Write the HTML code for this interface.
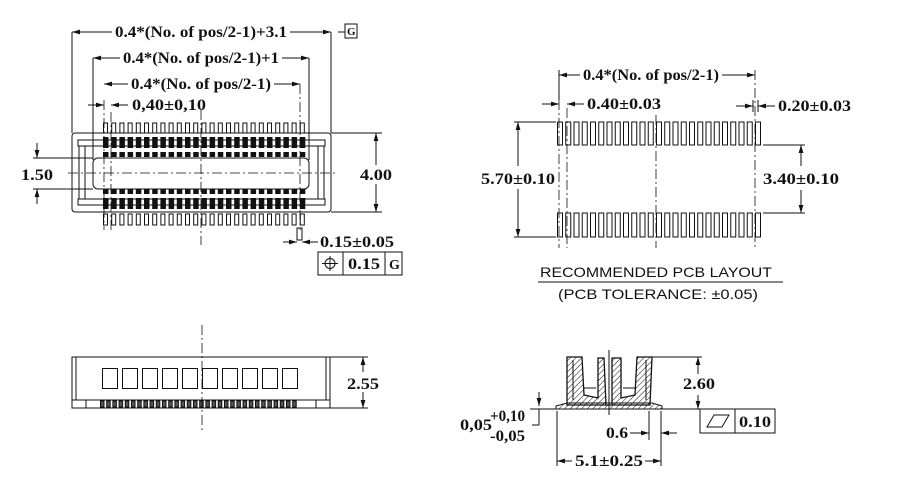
<!DOCTYPE html>
<html><head><meta charset="utf-8"><style>
html,body{margin:0;padding:0;background:#fff;}
svg{display:block;}
text{font-family:"Liberation Serif",serif;font-size:16px;font-weight:bold;fill:#111;stroke:none;}
</style></head><body>
<svg width="912" height="482" viewBox="0 0 912 482" xmlns="http://www.w3.org/2000/svg" xmlns:xlink="http://www.w3.org/1999/xlink" stroke="#111" fill="none" stroke-width="1">
<defs>
<marker id="a" viewBox="0 0 10 6" refX="10" refY="3" markerWidth="8" markerHeight="5" orient="auto-start-reverse"><path d="M0,0L10,3L0,6z" fill="#111" stroke="none"/></marker>
<g id="pc">
<rect x="0.5" y="123" width="4" height="10" fill="#fff"/>
<rect x="0" y="137" width="5.5" height="11" fill="#111" stroke="none"/>
<rect x="0" y="152" width="5.5" height="5" fill="#111" stroke="none"/>
<rect x="0" y="189" width="5.5" height="5" fill="#111" stroke="none"/>
<rect x="0" y="198" width="5.5" height="11" fill="#111" stroke="none"/>
<rect x="0.5" y="214" width="4" height="11" fill="#fff"/>
</g>
<g id="pd">
<rect x="0.5" y="122" width="5" height="23" fill="#fff"/>
<rect x="0.5" y="213" width="5" height="24" fill="#fff"/>
</g>
<g id="p5">
<use href="#pc" x="0"/><use href="#pc" x="8.2"/><use href="#pc" x="16.4"/><use href="#pc" x="24.6"/><use href="#pc" x="32.8"/>
</g>
<g id="d5">
<use href="#pd" x="0"/><use href="#pd" x="8.25"/><use href="#pd" x="16.5"/><use href="#pd" x="24.75"/><use href="#pd" x="33"/>
</g>
<g id="sp8">
<rect x="0.5" y="401" width="3.5" height="6" fill="#555"/><rect x="6.7" y="401" width="3.5" height="6" fill="#555"/><rect x="12.9" y="401" width="3.5" height="6" fill="#555"/><rect x="19.1" y="401" width="3.5" height="6" fill="#555"/>
<rect x="25.3" y="401" width="3.5" height="6" fill="#555"/><rect x="31.5" y="401" width="3.5" height="6" fill="#555"/><rect x="37.7" y="401" width="3.5" height="6" fill="#555"/><rect x="43.9" y="401" width="3.5" height="6" fill="#555"/>
</g>
<pattern id="h" width="4" height="4" patternUnits="userSpaceOnUse" patternTransform="rotate(45)"><line x1="0" y1="0" x2="0" y2="4" stroke="#111" stroke-width="1"/></pattern>
</defs>

<!-- TOP-LEFT VIEW -->
<rect x="72" y="133" width="259" height="79" rx="3"/>
<rect x="78" y="140" width="247" height="6"/>
<rect x="78" y="199" width="247" height="6"/>
<line x1="79" y1="146" x2="79" y2="199"/><line x1="85" y1="146" x2="85" y2="199"/>
<line x1="318" y1="146" x2="318" y2="199"/><line x1="324" y1="146" x2="324" y2="199"/>
<rect x="93" y="158" width="216" height="31" rx="5"/>
<use href="#p5" x="103"/><use href="#p5" x="144"/><use href="#p5" x="185"/><use href="#p5" x="226"/><use href="#p5" x="267"/>
<g stroke-dasharray="10,3,2,3" stroke-width="0.8">
<line x1="201" y1="110" x2="201" y2="245"/>
<line x1="68" y1="173" x2="335" y2="173"/>
<line x1="104" y1="100" x2="104" y2="230"/>
<line x1="111" y1="112" x2="111" y2="230"/>
<line x1="300" y1="84" x2="300" y2="230"/>
</g>
<line x1="72" y1="32" x2="72" y2="133"/><line x1="331" y1="32" x2="331" y2="133"/>
<line x1="72" y1="32" x2="112" y2="32" marker-start="url(#a)"/><line x1="290" y1="32" x2="331" y2="32" marker-end="url(#a)"/>
<text x="115" y="37" textLength="172" lengthAdjust="spacingAndGlyphs">0.4*(No. of pos/2-1)+3.1</text>
<line x1="338" y1="32" x2="345" y2="32"/><rect x="345" y="24" width="12" height="14"/>
<text x="347" y="35" style="font-size:11px">G</text>
<line x1="93" y1="58" x2="93" y2="160"/><line x1="309" y1="58" x2="309" y2="160"/>
<line x1="93" y1="58" x2="120" y2="58" marker-start="url(#a)"/><line x1="282" y1="58" x2="309" y2="58" marker-end="url(#a)"/>
<text x="123" y="63" textLength="156" lengthAdjust="spacingAndGlyphs">0.4*(No. of pos/2-1)+1</text>
<line x1="104" y1="84" x2="128" y2="84" marker-start="url(#a)"/><line x1="274" y1="84" x2="300" y2="84" marker-end="url(#a)"/>
<text x="131" y="89" textLength="140" lengthAdjust="spacingAndGlyphs">0.4*(No. of pos/2-1)</text>
<line x1="88" y1="105" x2="104" y2="105" marker-end="url(#a)"/><line x1="111" y1="105" x2="128" y2="105" marker-start="url(#a)"/>
<text x="132" y="110" textLength="74" lengthAdjust="spacingAndGlyphs">0,40±0,10</text>
<line x1="33" y1="158" x2="93" y2="158"/><line x1="33" y1="189" x2="93" y2="189"/>
<line x1="37" y1="143" x2="37" y2="158" marker-end="url(#a)"/><line x1="37" y1="189" x2="37" y2="204" marker-start="url(#a)"/>
<text x="21" y="180" textLength="32" lengthAdjust="spacingAndGlyphs">1.50</text>
<line x1="331" y1="133" x2="382" y2="133"/><line x1="331" y1="212" x2="382" y2="212"/>
<line x1="376" y1="133" x2="376" y2="165" marker-start="url(#a)"/><line x1="376" y1="184" x2="376" y2="212" marker-end="url(#a)"/>
<text x="360" y="180" textLength="32" lengthAdjust="spacingAndGlyphs">4.00</text>
<rect x="297" y="228" width="5" height="12"/>
<line x1="283" y1="242" x2="297" y2="242" marker-end="url(#a)"/><line x1="302" y1="242" x2="318" y2="242" marker-start="url(#a)"/>
<text x="320" y="247" textLength="74" lengthAdjust="spacingAndGlyphs">0.15±0.05</text>
<rect x="318" y="252" width="84" height="23"/><line x1="343" y1="252" x2="343" y2="275"/><line x1="385" y1="252" x2="385" y2="275"/>
<circle cx="330" cy="263.5" r="5"/><line x1="322" y1="263.5" x2="338" y2="263.5"/><line x1="330" y1="256" x2="330" y2="271"/>
<text x="348" y="269" textLength="32" lengthAdjust="spacingAndGlyphs">0.15</text>
<text x="389" y="269" style="font-size:14px">G</text>

<!-- PCB LAYOUT -->
<use href="#d5" x="557"/><use href="#d5" x="598.25"/><use href="#d5" x="639.5"/><use href="#d5" x="680.75"/><use href="#d5" x="722"/>
<g stroke-dasharray="10,3,2,3" stroke-width="0.8">
<line x1="559" y1="100" x2="559" y2="248"/><line x1="567" y1="108" x2="567" y2="248"/>
<line x1="656" y1="115" x2="656" y2="248"/><line x1="755" y1="70" x2="755" y2="248"/>
</g>
<line x1="559" y1="70" x2="559" y2="100"/>
<line x1="559" y1="75" x2="580" y2="75" marker-start="url(#a)"/><line x1="722" y1="75" x2="755" y2="75" marker-end="url(#a)"/>
<text x="583" y="80" textLength="136" lengthAdjust="spacingAndGlyphs">0.4*(No. of pos/2-1)</text>
<line x1="542" y1="104" x2="559" y2="104" marker-end="url(#a)"/><line x1="567" y1="104" x2="584" y2="104" marker-start="url(#a)"/>
<text x="587" y="109" textLength="74" lengthAdjust="spacingAndGlyphs">0.40±0.03</text>
<line x1="736" y1="106" x2="753" y2="106" marker-end="url(#a)"/><line x1="758" y1="106" x2="775" y2="106" marker-start="url(#a)"/>
<line x1="753" y1="100" x2="753" y2="112"/><line x1="758" y1="100" x2="758" y2="112"/>
<text x="778" y="111" textLength="73" lengthAdjust="spacingAndGlyphs">0.20±0.03</text>
<line x1="514" y1="122" x2="556" y2="122"/><line x1="514" y1="237" x2="556" y2="237"/>
<line x1="518" y1="122" x2="518" y2="166" marker-start="url(#a)"/><line x1="518" y1="189" x2="518" y2="237" marker-end="url(#a)"/>
<text x="481" y="184" textLength="74" lengthAdjust="spacingAndGlyphs">5.70±0.10</text>
<line x1="763" y1="145" x2="805" y2="145"/><line x1="763" y1="213" x2="805" y2="213"/>
<line x1="801" y1="145" x2="801" y2="166" marker-start="url(#a)"/><line x1="801" y1="190" x2="801" y2="213" marker-end="url(#a)"/>
<text x="763" y="184" textLength="76" lengthAdjust="spacingAndGlyphs">3.40±0.10</text>
<text x="540" y="277" textLength="232" lengthAdjust="spacingAndGlyphs" style="font-family:'Liberation Sans',sans-serif;font-size:14px;font-weight:normal">RECOMMENDED PCB LAYOUT</text>
<line x1="538" y1="282" x2="783" y2="282"/>
<text x="558" y="299" textLength="200" lengthAdjust="spacingAndGlyphs" style="font-family:'Liberation Sans',sans-serif;font-size:14px;font-weight:normal">(PCB TOLERANCE: ±0.05)</text>

<!-- SIDE VIEW -->
<rect x="72" y="357" width="258" height="51"/>
<line x1="76" y1="357" x2="76" y2="400"/><line x1="326" y1="357" x2="326" y2="400"/>
<line x1="72" y1="400" x2="330" y2="400"/>
<line x1="86" y1="400" x2="86" y2="408"/><line x1="316" y1="400" x2="316" y2="408"/>
<rect x="102.5" y="368.5" width="15" height="20"/><rect x="122.5" y="368.5" width="15" height="20"/><rect x="142.5" y="368.5" width="15" height="20"/><rect x="162.5" y="368.5" width="15" height="20"/><rect x="182.5" y="368.5" width="15" height="20"/>
<rect x="202.5" y="368.5" width="15" height="20"/><rect x="222.5" y="368.5" width="15" height="20"/><rect x="242.5" y="368.5" width="15" height="20"/><rect x="262.5" y="368.5" width="15" height="20"/><rect x="282.5" y="368.5" width="15" height="20"/>
<use href="#sp8" x="100"/><use href="#sp8" x="149.6"/><use href="#sp8" x="199.2"/><use href="#sp8" x="248.8"/>
<line x1="202" y1="325" x2="202" y2="432" stroke-dasharray="10,3,2,3" stroke-width="0.8"/>
<line x1="330" y1="357" x2="368" y2="357"/><line x1="330" y1="408" x2="368" y2="408"/>
<line x1="363" y1="357" x2="363" y2="372" marker-start="url(#a)"/><line x1="363" y1="392" x2="363" y2="408" marker-end="url(#a)"/>
<text x="347" y="389" textLength="32" lengthAdjust="spacingAndGlyphs">2.55</text>

<!-- CROSS SECTION -->
<path d="M567,357 L582,357 L584,395 L598,398 L598,358 L604,358 L606,405 L650,405 L652,357 L637,357 L635,395 L621,398 L621,358 L612,358 L612,405 L567,405 Z" fill="url(#h)" stroke-width="1.3"/>
<path d="M573,360 L573,400 M646,360 L646,400 M584,388 L596,388 M623,388 L635,388"/>
<path d="M556,406 L567,403 L652,403 L662,406 L662,409 L556,409 Z" fill="url(#h)"/>
<line x1="530" y1="409" x2="556" y2="409"/><line x1="662" y1="409" x2="700" y2="409"/>
<line x1="609" y1="350" x2="609" y2="415"/>
<line x1="652" y1="357" x2="702" y2="357"/>
<line x1="698" y1="357" x2="698" y2="374" marker-start="url(#a)"/><line x1="698" y1="395" x2="698" y2="409" marker-end="url(#a)"/>
<text x="683" y="389" textLength="32" lengthAdjust="spacingAndGlyphs">2.60</text>
<rect x="700" y="409" width="75" height="24"/><line x1="735" y1="409" x2="735" y2="433"/>
<path d="M707,427 L714,415 L729,415 L722,427 Z"/>
<text x="739" y="427" textLength="32" lengthAdjust="spacingAndGlyphs">0.10</text>
<line x1="539" y1="392" x2="539" y2="406" marker-end="url(#a)"/><line x1="539" y1="409" x2="539" y2="425"/>
<line x1="532" y1="425" x2="539" y2="425"/>
<text x="460" y="430" textLength="32" lengthAdjust="spacingAndGlyphs">0,05</text>
<text x="490" y="421" textLength="35" lengthAdjust="spacingAndGlyphs">+0,10</text>
<text x="490" y="441" textLength="35" lengthAdjust="spacingAndGlyphs">-0,05</text>
<line x1="557" y1="411" x2="557" y2="466"/><line x1="661" y1="411" x2="661" y2="466"/>
<line x1="649" y1="411" x2="649" y2="440"/>
<line x1="630" y1="433" x2="649" y2="433" marker-end="url(#a)"/><line x1="661" y1="433" x2="677" y2="433" marker-start="url(#a)"/>
<text x="606" y="438" textLength="22" lengthAdjust="spacingAndGlyphs">0.6</text>
<line x1="557" y1="461" x2="572" y2="461" marker-start="url(#a)"/><line x1="645" y1="461" x2="661" y2="461" marker-end="url(#a)"/>
<text x="575" y="466" textLength="68" lengthAdjust="spacingAndGlyphs">5.1±0.25</text>
</svg>
</body></html>
